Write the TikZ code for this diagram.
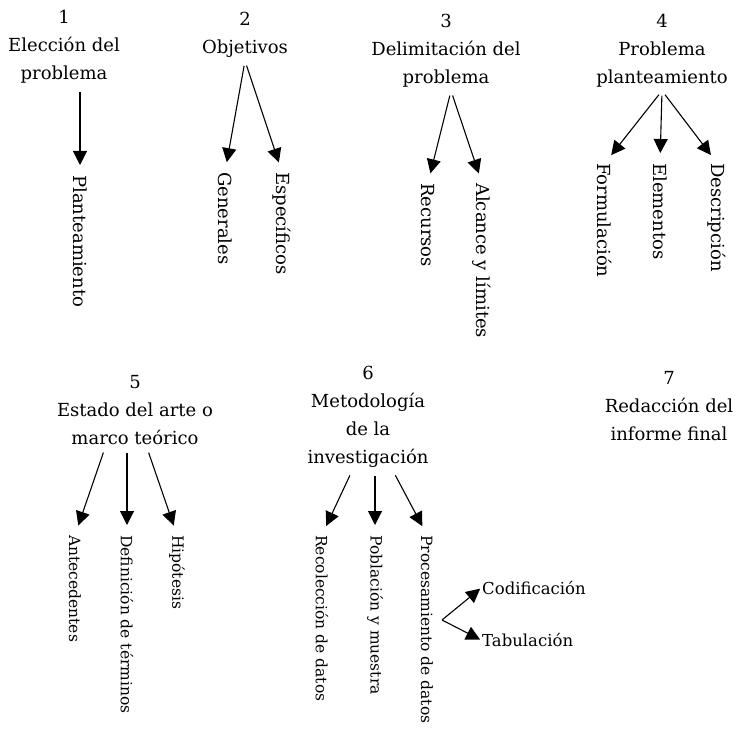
\documentclass[tikz,border=0pt]{standalone}
\usepackage{fontspec}
\setmainfont{DejaVu Serif}
\usetikzlibrary{arrows.meta}
\tikzset{
  head/.style={align=center, inner sep=3pt, font=\fontsize{18}{28}\selectfont},
  leaf/.style={rotate=-90, anchor=west, inner sep=0pt, font=\fontsize{18}{20}\selectfont},
  leafs/.style={leaf, font=\fontsize{15.5}{18}\selectfont},
  side/.style={anchor=west, inner sep=1pt, font=\fontsize{16.5}{18}\selectfont},
  arr/.style={-{Triangle[length=14pt,width=14pt]}, line width=1.1pt, shorten >=10pt, shorten <=5pt},
}
\begin{document}
\begin{tikzpicture}[x=1pt, y=-1pt]
    \useasboundingbox (0,0) rectangle (735,735);

    % Steps of the first row
    \node[head] (h1) at (64, 47) {1\\Elección del\\problema};
    \node[head] (h2) at (245, 35) {2\\Objetivos};
    \node[head] (h3) at (446, 51) {3\\Delimitación del\\problema};
    \node[head] (h4) at (662, 51) {4\\Problema\\planteamiento};

    % Steps of the second row
    \node[head] (h5) at (135, 410) {5\\Estado del arte o\\marco teórico};
    \node[head] (h6) at (368, 417) {6\\Metodología\\de la\\investigación};
    \node[head] (h7) at (669, 406) {7\\Redacción del\\informe final};

    % Vertical labels
    \node[leaf] (pl) at (80, 175) {Planteamiento};
    \node[leaf] (gen) at (225, 172) {Generales};
    \node[leaf] (esp) at (282, 172) {Específicos};
    \node[leaf] (rec) at (428, 183) {Recursos};
    \node[leaf] (alc) at (482, 183) {Alcance y límites};
    \node[leaf] (form) at (605, 163) {Formulación};
    \node[leaf] (elem) at (660, 163) {Elementos};
    \node[leaf] (desc) at (717, 163) {Descripción};

    \node[leafs] (ante) at (75, 535) {Antecedentes};
    \node[leafs] (defi) at (127, 535) {Definición de términos};
    \node[leafs] (hip) at (177, 535) {Hipótesis};
    \node[leafs] (reco) at (322, 535) {Recolección de datos};
    \node[leafs] (pobl) at (375, 535) {Población y muestra};
    \node[leafs] (proc) at (427, 535) {Procesamiento de datos};

    \coordinate (br) at (442, 620);
    \node[side] (cod) at (481, 588) {Codificación};
    \node[side] (tab) at (481, 640) {Tabulación};

    % Arrows
    \draw[arr] (h1.south -| pl.west) -- (pl.west);
    \draw[arr] (h2.south) -- (gen.west);
    \draw[arr] (h2.south) -- (esp.west);
    \draw[arr] ([xshift=5pt]h3.south) -- (rec.west);
    \draw[arr] ([xshift=5pt]h3.south) -- (alc.west);
    \draw[arr] (h4.south) -- (form.west);
    \draw[arr] (h4.south) -- (elem.west);
    \draw[arr] (h4.south) -- (desc.west);
    \draw[arr] ([xshift=-30pt]h5.south) -- (ante.west);
    \draw[arr] (h5.south -| defi.west) -- (defi.west);
    \draw[arr] ([xshift=12pt]h5.south) -- (hip.west);
    \draw[arr] ([xshift=-16pt]h6.south) -- (reco.west);
    \draw[arr] (h6.south -| pobl.west) -- (pobl.west);
    \draw[arr] ([xshift=25pt]h6.south) -- (proc.west);
    \draw[arr, shorten >=1pt, shorten <=0pt] (br) -- (cod.west);
    \draw[arr, shorten >=1pt, shorten <=0pt] (br) -- (tab.west);
\end{tikzpicture}
\end{document}
